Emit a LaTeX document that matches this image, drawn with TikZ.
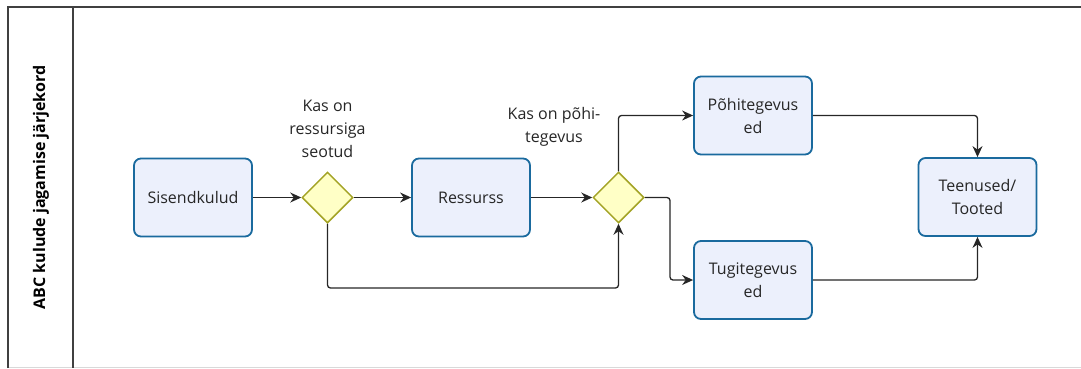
\documentclass[tikz,border=0pt]{standalone}
\usepackage{fontspec}
\setmainfont{Open Sans}
\usetikzlibrary{arrows.meta,shapes.geometric}
\definecolor{boxfill}{HTML}{ECF0FC}
\definecolor{boxline}{HTML}{1A6A9E}
\definecolor{gatefill}{HTML}{FFFFC6}
\definecolor{gateline}{HTML}{A3A325}
\definecolor{flowc}{HTML}{262626}
\begin{document}
\begin{tikzpicture}[x=1pt,y=-1pt,
  task/.style={draw=boxline, line width=1.8pt, fill=boxfill, rounded corners=7pt,
    minimum width=118pt, minimum height=78pt, align=center,
    font=\fontsize{16}{23}\selectfont, text=black!85},
  gate/.style={diamond, draw=gateline, line width=1.5pt, fill=gatefill,
    minimum width=51pt, minimum height=51pt, inner sep=0pt},
  flow/.style={draw=flowc, line width=1.3pt, -{Stealth[length=11pt,width=10pt]},
    rounded corners=3pt},
  note/.style={align=center, font=\fontsize{16}{23}\selectfont, text=black!85},
  lane/.style={line width=1.3pt, draw=black!75}]

\useasboundingbox (0,0) rectangle (1081,368);

% pool frame and lane header
\draw[black!15, line width=0.8pt] (8,367) -- (1081,367);
\draw[lane] (8,368) -- (8,7) -- (1090,7);
\draw[lane] (73,7) -- (73,368);
\node[rotate=90, font=\bfseries\fontsize{16}{18}\selectfont] (title) at (41,187.5)
  {ABC kulude jagamise järjekord};

% tasks
\node[task] (sisend) at (193,197.5) {Sisendkulud};
\node[task] (ress)   at (471,197.5) {Ressurss};
\node[task] (pohi)   at (753,115.5) {Põhitegevus\\ed};
\node[task] (tugi)   at (753,280)   {Tugitegevus\\ed};
\node[task] (teen)   at (977.5,197) {Teenused/\\Tooted};

% gateways
\node[gate] (g1) at (327.5,197.5) {};
\node[gate] (g2) at (618.5,197.5) {};

\node[note] (q1) at (327.5,129) {Kas on\\ressursiga\\seotud};
\node[note] (q2) at (554,127) {Kas on põhi-\\tegevus};

% helper points for the routed connectors
\coordinate (low) at (0,288);
\coordinate (split) at (670,197.5);

% sequence flows
\draw[flow] (sisend) -- (g1);
\draw[flow] (g1) -- (ress);
\draw[flow] (ress) -- (g2);
\draw[flow] (g1.south) -- (g1.south |- low) -| (g2.south);
\draw[flow] (g2.north) |- (pohi.west);
\draw[flow] (g2.east) -- (split) |- (tugi.west);
\draw[flow] (pohi.east) -| (teen.north);
\draw[flow] (tugi.east) -| (teen.south);
\end{tikzpicture}
\end{document}
